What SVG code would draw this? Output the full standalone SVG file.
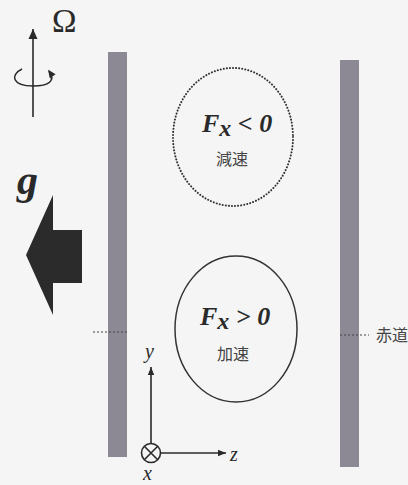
<svg xmlns="http://www.w3.org/2000/svg" width="408" height="485" viewBox="0 0 408 485">
<defs>
<style>
.bar{fill:#8d8994;}
.serif{font-family:"Liberation Serif","DejaVu Serif",serif;fill:#2a2a2a;}
.fx{font-family:"Liberation Serif","DejaVu Serif",serif;font-weight:bold;font-style:italic;font-size:26px;fill:#2a2a2a;}
.jp{font-family:"Noto Sans CJK JP",sans-serif;font-size:16px;fill:#444;}
.ax{stroke:#2a2a2a;stroke-width:1.6;fill:none;}
.eq{stroke:#444;stroke-width:1.2;stroke-dasharray:2 2;fill:none;}
</style>
<marker id="ah" viewBox="0 0 10 10" refX="10" refY="5" markerWidth="10" markerHeight="8" markerUnits="userSpaceOnUse" orient="auto">
<path d="M0,1 L10,5 L0,9 Z" fill="#2a2a2a"/>
</marker>
<marker id="ahb" viewBox="0 0 10 10" refX="10" refY="5" markerWidth="22" markerHeight="10" markerUnits="userSpaceOnUse" orient="auto">
<path d="M0,0.5 L10,5 L0,9.5 Z" fill="#2a2a2a"/>
</marker>
<marker id="ahs" viewBox="0 0 10 10" refX="8" refY="5" markerWidth="9" markerHeight="8" markerUnits="userSpaceOnUse" orient="auto">
<path d="M0,0.5 L10,5 L0,9.5 Z" fill="#2a2a2a"/>
</marker>
</defs>
<rect width="408" height="485" fill="#f5f5f5"/>

<g id="walls">
<rect class="bar" x="108" y="52" width="19" height="405"/>
<rect class="bar" x="340" y="60" width="19" height="407"/>
</g>

<g id="rotation">
<line class="ax" x1="33" y1="117" x2="33" y2="29" stroke-width="2.6" marker-end="url(#ahb)"/>
<path class="ax" d="M22 69 C 10 75, 12 86, 33 86 C 49 86, 56 81, 49 71" stroke-width="2.2" marker-end="url(#ahs)"/>
<text class="serif" x="52" y="32" font-size="33">Ω</text>
</g>

<g id="gravity">
<text class="serif" x="17" y="194" font-size="42" font-weight="bold" font-style="italic">g</text>
<polygon points="26,255 53,195 53,230 82,230 82,283 53,283 53,315" fill="#2b2b2b"/>
</g>

<g id="decel">
<ellipse cx="233" cy="137" rx="60" ry="69" fill="none" stroke="#333" stroke-width="2" stroke-dasharray="0.1 3" stroke-linecap="round"/>
<text class="fx" x="202" y="132">F<tspan font-size="24" dy="4">x</tspan><tspan dy="-4"> &lt; 0</tspan></text>
<text class="jp" x="232" y="165" text-anchor="middle">減速</text>
</g>

<g id="accel">
<ellipse cx="236" cy="329" rx="61" ry="73" fill="none" stroke="#333" stroke-width="1.5"/>
<text class="fx" x="200" y="325">F<tspan font-size="24" dy="4">x</tspan><tspan dy="-4"> &gt; 0</tspan></text>
<text class="jp" x="233" y="360" text-anchor="middle">加速</text>
</g>

<g id="equator">
<line class="eq" x1="93" y1="332" x2="127" y2="332"/>
<line class="eq" x1="340" y1="335" x2="369" y2="335"/>
<text class="jp" x="376" y="341" font-size="15" fill="#333">赤道</text>
</g>

<g id="connectors">
<line class="ax" x1="151" y1="443" x2="151" y2="367" marker-end="url(#ah)"/>
<line class="ax" x1="161" y1="453" x2="226" y2="453" marker-end="url(#ah)"/>
</g>

<g id="axes-labels">
<circle cx="151" cy="453" r="9.5" fill="none" stroke="#2a2a2a" stroke-width="1.6"/>
<path d="M144.3 446.3 L157.7 459.7 M157.7 446.3 L144.3 459.7" stroke="#2a2a2a" stroke-width="1.6"/>
<text class="serif" x="145" y="358" font-size="20" font-style="italic">y</text>
<text class="serif" x="230" y="461" font-size="20" font-style="italic">z</text>
<text class="serif" x="143" y="480" font-size="20" font-style="italic">x</text>
</g>
</svg>
